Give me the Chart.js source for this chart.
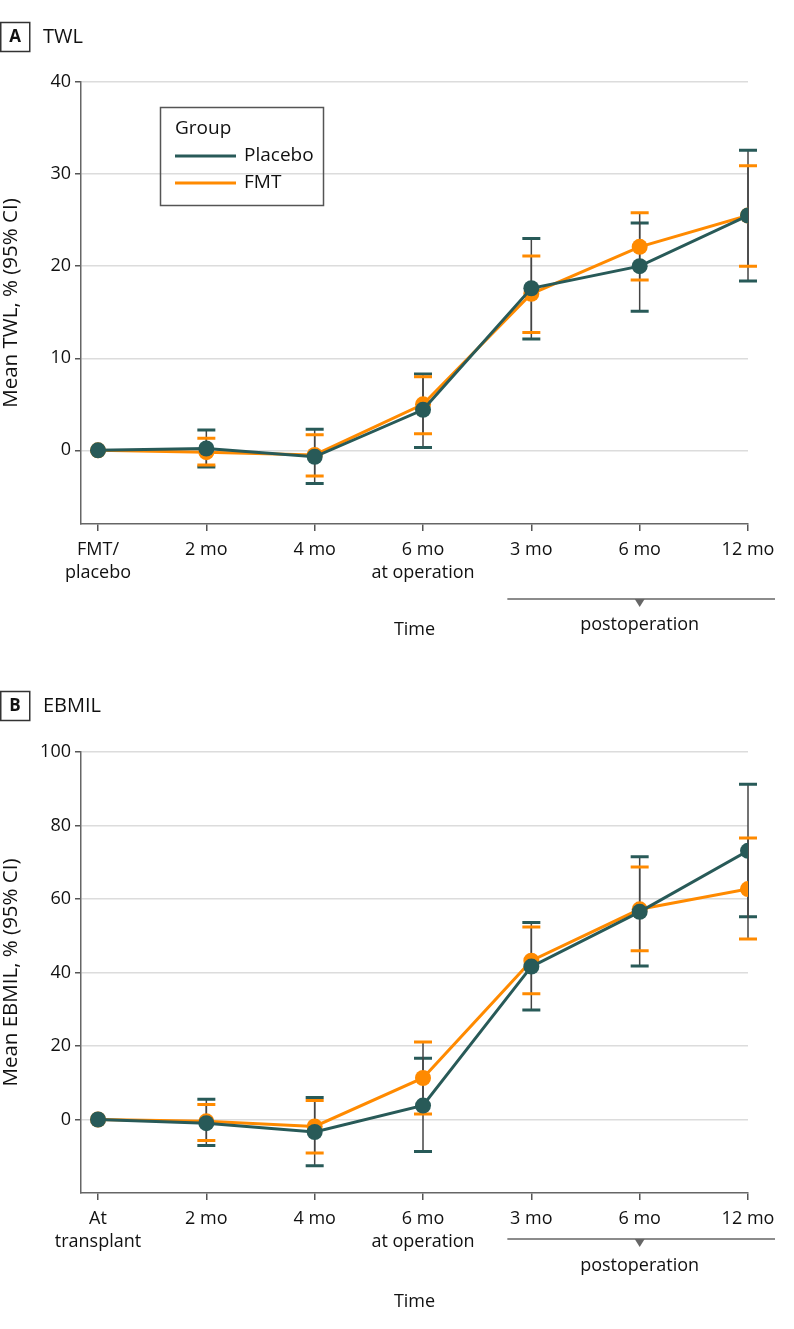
<!DOCTYPE html>
<html>
<head>
<meta charset="utf-8">
<script src="https://cdn.jsdelivr.net/npm/chart.js@4.4.1/dist/chart.umd.min.js"></script>
<style>
  body { margin: 0; background: #fff; }
  .panel { position: absolute; left: 0; }
</style>
</head>
<body>
<div class="panel" style="top:0px"><canvas id="twlChart" width="794" height="650"></canvas></div>
<div class="panel" style="top:650px"><canvas id="ebmilChart" width="794" height="679"></canvas></div>
<script>
// time points (x positions 0..6)
const twlTimeLabels = [['FMT/', 'placebo'], '2 mo', '4 mo', ['6 mo', 'at operation'], '3 mo', '6 mo', '12 mo'];
const ebmilTimeLabels = [['At', 'transplant'], '2 mo', '4 mo', ['6 mo', 'at operation'], '3 mo', '6 mo', '12 mo'];

// Panel A - TWL, %
const twlPlacebo   = [0, 0.2, -0.7, 4.4, 17.6, 20.0, 25.5];
const twlPlaceboLo = [0, -1.8, -3.6, 0.3, 12.1, 15.1, 18.4];
const twlPlaceboHi = [0, 2.2, 2.3, 8.3, 23.0, 24.7, 32.6];
const twlFmt       = [0, -0.2, -0.5, 5.0, 17.0, 22.1, 25.5];
const twlFmtLo     = [0, -1.6, -2.8, 1.8, 12.8, 18.5, 20.0];
const twlFmtHi     = [0, 1.3, 1.7, 8.0, 21.1, 25.8, 30.9];

// Panel B - EBMIL, %
const ebmilPlacebo   = [0, -1.0, -3.4, 3.8, 41.6, 56.5, 73.1];
const ebmilPlaceboLo = [0, -7.1, -12.6, -8.7, 29.8, 41.8, 55.2];
const ebmilPlaceboHi = [0, 5.5, 6.0, 16.7, 53.6, 71.5, 91.2];
const ebmilFmt       = [0, -0.5, -1.9, 11.3, 43.2, 57.2, 62.7];
const ebmilFmtLo     = [0, -5.7, -9.1, 1.5, 34.2, 45.9, 49.1];
const ebmilFmtHi     = [0, 4.1, 5.2, 21.1, 52.4, 68.7, 76.6];

const PLACEBO = '#285a58';
const FMT = '#ff8a00';
const FONT = "'Open Sans', sans-serif";

function toPoints(vals) {
    return vals.map((v, i) => ({ x: i, y: v }));
}

// draws the 95% CI whiskers under the lines
const errorBarsPlugin = {
    id: 'errorBars',
    beforeDatasetsDraw(chart) {
        const ctx = chart.ctx;
        const xs = chart.scales.x, ys = chart.scales.y;
        ctx.save();
        chart.data.datasets.forEach(ds => {
            for (let i = 0; i < ds.lo.length; i++) {
                if (ds.lo[i] === ds.hi[i]) continue;
                const x = xs.getPixelForValue(i);
                const yLo = ys.getPixelForValue(ds.lo[i]);
                const yHi = ys.getPixelForValue(ds.hi[i]);
                ctx.strokeStyle = '#444';
                ctx.lineWidth = 1.5;
                ctx.beginPath();
                ctx.moveTo(x, yLo);
                ctx.lineTo(x, yHi);
                ctx.stroke();
                ctx.strokeStyle = ds.borderColor;
                ctx.lineWidth = 3;
                ctx.beginPath();
                ctx.moveTo(x - 9, yLo); ctx.lineTo(x + 9, yLo);
                ctx.moveTo(x - 9, yHi); ctx.lineTo(x + 9, yHi);
                ctx.stroke();
            }
        });
        ctx.restore();
    }
};

// panel letter, title, legend box and the postoperation bracket
const decorPlugin = {
    id: 'decor',
    afterDraw(chart, args, opts) {
        const ctx = chart.ctx;
        const xs = chart.scales.x;
        ctx.save();
        // panel letter box
        ctx.strokeStyle = '#333';
        ctx.lineWidth = 1.5;
        ctx.strokeRect(0.75, opts.boxTop + 0.5, 29, 29);
        ctx.fillStyle = '#111';
        ctx.textBaseline = 'middle';
        ctx.textAlign = 'center';
        ctx.font = 'bold 17px ' + FONT;
        ctx.fillText(opts.letter, 15, opts.boxTop + 15);
        ctx.textAlign = 'left';
        ctx.font = '20px ' + FONT;
        ctx.fillText(opts.title, 43, opts.boxTop + 15);

        // postoperation bracket
        const x0 = xs.getPixelForValue(4) - 24;
        const x1 = xs.getPixelForValue(6) + 27;
        const xm = xs.getPixelForValue(5);
        ctx.strokeStyle = '#666';
        ctx.lineWidth = 1.5;
        ctx.beginPath();
        ctx.moveTo(x0, opts.bracketY);
        ctx.lineTo(x1, opts.bracketY);
        ctx.stroke();
        ctx.fillStyle = '#666';
        ctx.beginPath();
        ctx.moveTo(xm - 5, opts.bracketY);
        ctx.lineTo(xm + 5, opts.bracketY);
        ctx.lineTo(xm, opts.bracketY + 8);
        ctx.closePath();
        ctx.fill();
        ctx.fillStyle = '#111';
        ctx.textAlign = 'center';
        ctx.font = '18px ' + FONT;
        ctx.fillText('postoperation', xm, opts.postTextY);

        if (opts.legend) {
            const lx = 160.5, ly = 107.5;
            ctx.strokeStyle = '#555';
            ctx.lineWidth = 1.5;
            ctx.strokeRect(lx, ly, 163, 98);
            ctx.textAlign = 'left';
            ctx.fillStyle = '#111';
            ctx.font = '19px ' + FONT;
            ctx.fillText('Group', 175, 129);
            const items = [['Placebo', PLACEBO, 156], ['FMT', FMT, 183]];
            items.forEach(([name, col, y]) => {
                ctx.strokeStyle = col;
                ctx.lineWidth = 3;
                ctx.beginPath();
                ctx.moveTo(175, y);
                ctx.lineTo(236, y);
                ctx.stroke();
                ctx.fillText(name, 244, y);
            });
        }
        ctx.restore();
    }
};

function makeChart(id, cfg) {
    const ctx = document.getElementById(id).getContext('2d');
    return new Chart(ctx, {
        type: 'line',
        data: {
            datasets: [{
                label: 'Placebo',
                data: toPoints(cfg.placebo),
                lo: cfg.placeboLo,
                hi: cfg.placeboHi,
                borderColor: PLACEBO,
                backgroundColor: PLACEBO,
                borderWidth: 3,
                pointRadius: 8,
                pointHoverRadius: 8,
                pointBorderWidth: 0
            }, {
                label: 'FMT',
                data: toPoints(cfg.fmt),
                lo: cfg.fmtLo,
                hi: cfg.fmtHi,
                borderColor: FMT,
                backgroundColor: FMT,
                borderWidth: 3,
                pointRadius: 8,
                pointHoverRadius: 8,
                pointBorderWidth: 0
            }]
        },
        options: {
            responsive: false,
            animation: false,
            devicePixelRatio: 1,
            layout: { padding: { left: 0, top: cfg.top, right: 46, bottom: 0 } },
            plugins: {
                legend: { display: false },
                tooltip: { enabled: false },
                decor: cfg.decor
            },
            scales: {
                x: {
                    type: 'linear',
                    min: -0.157,
                    max: 6,
                    // one tick per time point
                    afterBuildTicks: s => { s.ticks = cfg.labels.map((l, i) => ({ value: i })); },
                    afterFit: s => { s.height = cfg.xHeight; },
                    ticks: {
                        autoSkip: false,
                        maxRotation: 0,
                        padding: 7,
                        color: '#111',
                        font: { family: FONT, size: 18, lineHeight: 1.3 },
                        callback: v => cfg.labels[v]
                    },
                    grid: { drawOnChartArea: false, drawTicks: true, tickLength: 7, color: '#555', lineWidth: 1.5 },
                    border: { color: '#666', width: 1.5 },
                    title: {
                        display: true,
                        text: 'Time',
                        color: '#111',
                        font: { family: FONT, size: 18 },
                        padding: { top: 0, bottom: cfg.timePad }
                    }
                },
                y: {
                    min: cfg.yMin,
                    max: cfg.yMax,
                    afterBuildTicks: s => { s.ticks = s.ticks.filter(t => t.value >= 0); },
                    afterFit: s => { s.width = 81; },
                    ticks: {
                        stepSize: cfg.yStep,
                        padding: 4,
                        color: '#111',
                        font: { family: FONT, size: 18 }
                    },
                    grid: { color: '#dcdcdc', lineWidth: 1.5, tickColor: '#555', tickLength: 6 },
                    border: { color: '#666', width: 1.5 },
                    title: {
                        display: true,
                        text: cfg.yTitle,
                        color: '#111',
                        font: { family: FONT, size: 20.5, lineHeight: 1.1 },
                        padding: { top: 0, bottom: 0 }
                    }
                }
            }
        },
        plugins: [errorBarsPlugin, decorPlugin]
    });
}

makeChart('twlChart', {
    labels: twlTimeLabels,
    placebo: twlPlacebo, placeboLo: twlPlaceboLo, placeboHi: twlPlaceboHi,
    fmt: twlFmt, fmtLo: twlFmtLo, fmtHi: twlFmtHi,
    yMin: -8, yMax: 40, yStep: 10,
    yTitle: 'Mean TWL, % (95% CI)',
    top: 82, xHeight: 126, timePad: 9,
    decor: { letter: 'A', title: 'TWL', boxTop: 22, bracketY: 599, postTextY: 625, legend: true }
});

makeChart('ebmilChart', {
    labels: ebmilTimeLabels,
    placebo: ebmilPlacebo, placeboLo: ebmilPlaceboLo, placeboHi: ebmilPlaceboHi,
    fmt: ebmilFmt, fmtLo: ebmilFmtLo, fmtHi: ebmilFmtHi,
    yMin: -20, yMax: 100, yStep: 20,
    yTitle: 'Mean EBMIL, % (95% CI)',
    top: 102, xHeight: 136, timePad: 16,
    decor: { letter: 'B', title: 'EBMIL', boxTop: 41, bracketY: 589, postTextY: 616, legend: false }
});
</script>
</body>
</html>
